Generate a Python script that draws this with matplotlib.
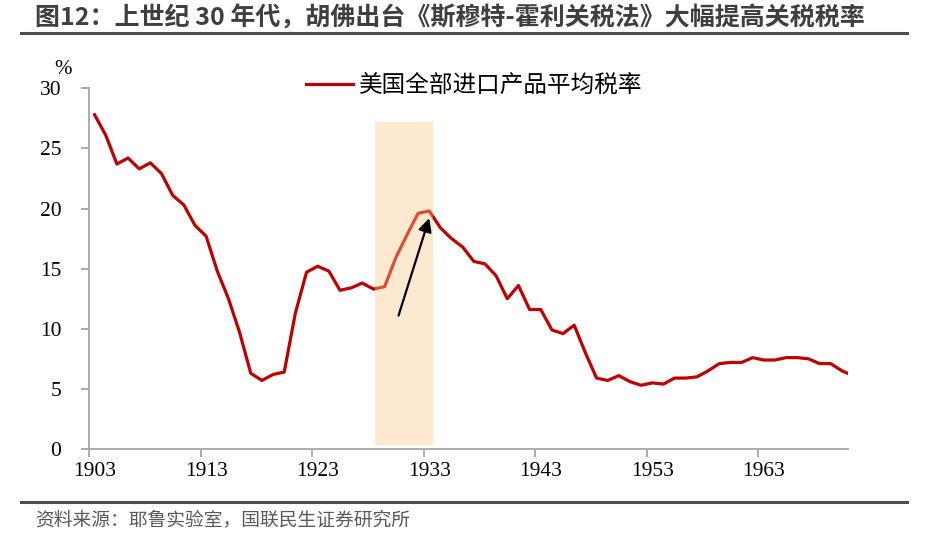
import matplotlib
matplotlib.use("Agg")
import matplotlib.pyplot as plt
from matplotlib.lines import Line2D

plt.rcParams['font.family'] = ['Noto Sans CJK SC', 'DejaVu Sans']

# 数据：美国全部进口产品平均税率（%）
years = list(range(1903, 1972))
rates = [27.8, 26.1, 23.7, 24.2, 23.3, 23.8, 22.9, 21.1, 20.3, 18.6,
         17.7, 14.8, 12.5, 9.7, 6.3, 5.7, 6.2, 6.4, 11.3, 14.7,
         15.2, 14.8, 13.2, 13.4, 13.8, 13.3, 13.5, 15.9, 17.8, 19.6,
         19.8, 18.4, 17.5, 16.8, 15.6, 15.4, 14.4, 12.5, 13.6, 11.6,
         11.6, 9.9, 9.6, 10.3, 8.0, 5.9, 5.7, 6.1, 5.6, 5.3,
         5.5, 5.4, 5.9, 5.9, 6.0, 6.5, 7.1, 7.2, 7.2, 7.6,
         7.4, 7.4, 7.6, 7.6, 7.5, 7.1, 7.1, 6.5, 6.1]
label_years = [1903, 1913, 1923, 1933, 1943, 1953, 1963]
y_ticks = [0, 5, 10, 15, 20, 25, 30]

# 阴影区间与箭头
band_x = [1928.15, 1933.3]
band_y = [0.33, 27.2]
arrow_from = (1930.25, 11.1)
arrow_to = (1933.0, 19.2)

fig = plt.figure(figsize=(9.25, 5.39), dpi=100)
ax = fig.add_axes([89 / 925, 1 - 449 / 539, (847.5 - 89) / 925, (449 - 88.3) / 539])

ax.plot(years, rates, color='#C00000', lw=2.3, solid_joinstyle='round', zorder=2)
ax.fill_between(band_x, band_y[0], band_y[1], color='#F9C98A', alpha=0.4, lw=0, zorder=3)
ax.annotate('', xy=arrow_to, xytext=arrow_from,
            arrowprops=dict(arrowstyle='-|>', color='black', lw=1.6, mutation_scale=20,
                            shrinkA=0, shrinkB=0), zorder=4)

ax.set_xlim(1902.5, 1970.5)
ax.set_ylim(0, 30)

for s in ['top', 'right']:
    ax.spines[s].set_visible(False)
for s in ['left', 'bottom']:
    ax.spines[s].set_color('#A6A6A6')
    ax.spines[s].set_linewidth(1.3)

# 刻度线在类别边界，标签在类别中心
ax.set_xticks([y - 0.5 for y in label_years])
ax.set_xticklabels([])
ax.set_xticks(label_years, minor=True)
ax.set_xticklabels([str(y) for y in label_years], minor=True,
                   fontfamily='Liberation Serif', fontsize=15.5)
ax.tick_params(axis='x', which='major', length=6, width=1.3, color='#A6A6A6', direction='out')
ax.tick_params(axis='x', which='minor', length=0, pad=9)

ax.set_yticks(y_ticks)
ax.set_yticklabels([str(v) for v in y_ticks], fontfamily='Liberation Serif', fontsize=15.5)
ax.tick_params(axis='y', length=6, width=1.3, color='#A6A6A6', direction='out', pad=14)

fig.text(72 / 925, 1 - 69 / 539, '%', fontfamily='Liberation Serif', fontsize=15,
         ha='right', va='center')

handle = Line2D([], [], color='#C00000', lw=2.3)
fig.legend([handle], ['美国全部进口产品平均税率'], loc='center left',
           bbox_to_anchor=(306 / 925, 1 - 86 / 539), frameon=False,
           fontsize=17, handlelength=2.0, handletextpad=0.25, borderpad=0, borderaxespad=0)

fig.text(35 / 925, 1 - 18 / 539,
         '图12：上世纪 30 年代，胡佛出台《斯穆特-霍利关税法》大幅提高关税税率',
         fontsize=18, fontweight='bold', color='#3F3F3F', ha='left', va='center')
fig.add_artist(Line2D([21 / 925, 907 / 925], [1 - 32.5 / 539, 1 - 32.5 / 539],
                      color='#4D4D4D', lw=2.2))
fig.add_artist(Line2D([21 / 925, 907 / 925], [1 - 502.3 / 539, 1 - 502.3 / 539],
                      color='#4D4D4D', lw=2.2))
fig.text(35 / 925, 1 - 520 / 539, '资料来源：耶鲁实验室，国联民生证券研究所',
         fontsize=13.5, color='#595959', ha='left', va='center')

fig.savefig('out.png', dpi=100)
